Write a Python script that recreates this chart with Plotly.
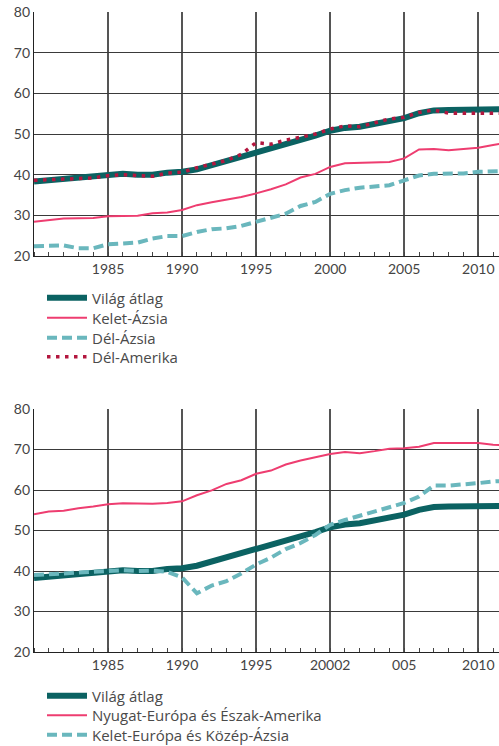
import plotly.graph_objects as go
from plotly.subplots import make_subplots

years = list(range(1980, 2013))

world = [38.3, 38.6, 38.9, 39.2, 39.5, 40.0, 40.2, 40.0, 40.0, 40.5,
         40.7, 41.3, 42.3, 43.3, 44.5, 45.6, 46.3, 47.5, 48.5, 49.6,
         50.8, 51.5, 51.8, 52.5, 53.5, 53.9, 55.1, 55.8, 55.9, 56.0,
         56.1, 55.9, 56.1]
east_asia = [28.4, 28.8, 29.2, 29.3, 29.35, 29.8, 29.9, 29.9, 30.5, 30.7,
             31.3, 32.5, 33.2, 33.8, 34.5, 35.4, 36.4, 37.6, 39.3, 40.2,
             41.9, 42.8, 42.9, 43.0, 43.1, 44.0, 46.2, 46.3, 46.0, 46.3,
             46.6, 47.3, 47.9]
south_asia = [22.4, 22.5, 22.6, 21.9, 21.9, 22.9, 23.0, 23.3, 24.3, 24.9,
              24.9, 25.9, 26.6, 26.8, 27.4, 28.4, 29.3, 30.4, 32.3, 33.3,
              35.3, 36.2, 36.8, 37.0, 37.4, 38.6, 39.8, 40.2, 40.2, 40.3,
              40.7, 40.7, 40.9]
south_america = [38.6, 38.8, 38.8, 39.1, 39.2, 39.75, 40.0, 39.8, 39.6, 40.4,
                 40.6, 41.7, 42.5, 43.5, 45.0, 47.9, 47.5, 48.5, 49.2, 50.0,
                 51.2, 52.0, 51.8, 52.7, 53.7, 54.1, 55.3, 55.9, 55.1, 55.1,
                 55.1, 55.1, 55.1]
west = [54.0, 54.7, 54.9, 55.5, 55.9, 56.5, 56.7, 56.6, 56.6, 56.8,
        57.2, 58.7, 59.9, 61.5, 62.4, 64.0, 64.8, 66.3, 67.3, 68.1,
        68.9, 69.4, 69.1, 69.6, 70.2, 70.3, 70.7, 71.6, 71.6, 71.6,
        71.6, 71.2, 71.0]
east_europe = [39.0, 39.2, 39.3, 39.4, 39.6, 39.8, 40.2, 40.0, 40.1, 39.8,
               38.4, 34.5, 36.4, 37.5, 39.4, 41.6, 43.3, 45.4, 46.9, 48.9,
               51.4, 52.6, 53.6, 54.6, 55.7, 56.8, 58.4, 61.1, 61.1, 61.3,
               61.7, 62.1, 62.3]

tick_vals = [1985, 1990, 1995, 2000, 2005, 2010]
tick_text_top = ["1985", "1990", "1995", "2000", "2005", "2010"]
tick_text_bottom = ["1985", "1990", "1995", "20002", "005", "2010"]

C_WORLD = "#0b6262"
C_PINK = "#ee3d70"
C_LTEAL = "#6ab7bd"
C_CRIMSON = "#b3173f"
FONT = "Lato"
LFONT = "Open Sans"
TXT = "#444444"

fig = make_subplots(rows=2, cols=1, vertical_spacing=0.0)

# top chart
fig.add_trace(go.Scatter(x=years, y=east_asia, mode="lines", name="Kelet-Ázsia",
                         line=dict(color=C_PINK, width=2), legend="legend2"), row=1, col=1)
fig.add_trace(go.Scatter(x=years, y=south_asia, mode="lines", name="Dél-Ázsia",
                         line=dict(color=C_LTEAL, width=4, dash="10px,5px"), legend="legend3"), row=1, col=1)
fig.add_trace(go.Scatter(x=years, y=world, mode="lines", name="Világ átlag",
                         line=dict(color=C_WORLD, width=6), legend="legend", showlegend=True), row=1, col=1)
fig.add_trace(go.Scatter(x=years, y=south_america, mode="lines", name="Dél-Amerika",
                         line=dict(color=C_CRIMSON, width=3.5, dash="3.5px,5.5px"), legend="legend4"), row=1, col=1)

# bottom chart
fig.add_trace(go.Scatter(x=years, y=west, mode="lines", name="Nyugat-Európa és Észak-Amerika",
                         line=dict(color=C_PINK, width=2), legend="legend6"), row=2, col=1)
fig.add_trace(go.Scatter(x=years, y=world, mode="lines", name="Világ átlag",
                         line=dict(color=C_WORLD, width=6), legend="legend5"), row=2, col=1)
fig.add_trace(go.Scatter(x=years, y=east_europe, mode="lines", name="Kelet-Európa és Közép-Ázsia",
                         line=dict(color=C_LTEAL, width=4, dash="10px,5px"), legend="legend7"), row=2, col=1)

top_dom = [1 - (256 - 12) / 640, 1.0]
bot_dom = [0.0, (652 - 409) / 640]

for i, (dom, ttext) in enumerate([(top_dom, tick_text_top), (bot_dom, tick_text_bottom)], start=1):
    xa = "xaxis" if i == 1 else "xaxis2"
    ya = "yaxis" if i == 1 else "yaxis2"
    fig.layout[ya].update(domain=dom, range=[20, 80], dtick=10, tick0=20,
                          showgrid=True, gridcolor="#3a3a3a", gridwidth=1,
                          showline=True, linecolor="#222222", linewidth=1.2,
                          ticks="", zeroline=False, automargin=False,
                          tickfont=dict(family=FONT, size=14, color=TXT))
    fig.layout[xa].update(range=[1980, 2011.4], tickvals=tick_vals, ticktext=ttext,
                          showgrid=True, gridcolor="#555555", gridwidth=1.5,
                          showline=True, linecolor="#222222", linewidth=1.2,
                          ticks="", zeroline=False, automargin=False, tickangle=0,
                          minor=dict(ticks="inside", dtick=1, tick0=1980, ticklen=4,
                                     tickcolor="#444444", tickwidth=1, showgrid=False),
                          tickfont=dict(family=FONT, size=14, color=TXT))

legend_centers = [298, 318, 338, 357, 696, 715.5, 735]
legends = {}
for k, yc in enumerate(legend_centers, start=1):
    key = "legend" if k == 1 else f"legend{k}"
    legends[key] = dict(xref="container", yref="container", x=42 / 499, y=1 - yc / 746,
                        xanchor="left", yanchor="middle", tracegroupgap=0,
                        font=dict(family=LFONT, size=15, color="#4a4a4a"),
                        bgcolor="rgba(0,0,0,0)", itemwidth=40, borderwidth=0,
                        visible=True)

fig.update_layout(
    width=499, height=746,
    showlegend=True,
    margin=dict(l=34, r=0, t=12, b=94, autoexpand=False),
    paper_bgcolor="white", plot_bgcolor="white",
    font=dict(family=FONT, color=TXT),
    **legends,
)

fig.write_html("out.html", config={"displayModeBar": False},
               post_script="document.body.style.margin='0';document.body.style.overflow='hidden';")
